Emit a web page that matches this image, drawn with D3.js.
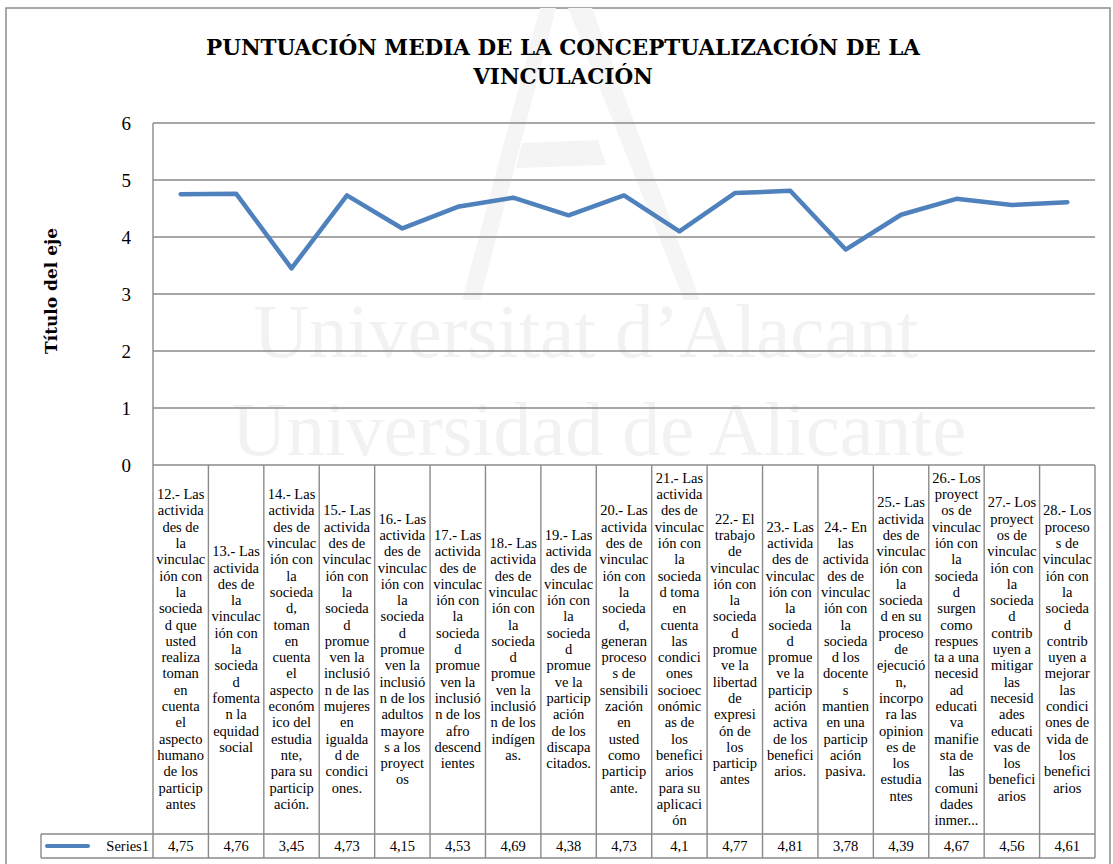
<!DOCTYPE html>
<html>
<head>
<meta charset="utf-8">
<script src="https://cdn.jsdelivr.net/npm/d3@7"></script>
<style>
  html, body { margin: 0; padding: 0; background: #fff; }
  svg { display: block; }
  text { font-family: "Liberation Serif", "DejaVu Serif", serif; }
  text.bold { font-family: "DejaVu Serif", serif; font-weight: bold; }
</style>
</head>
<body>
<svg id="chart" width="1113" height="864"></svg>
<script>
// ---- DATA ----
const titleLines = ["PUNTUACIÓN MEDIA DE LA CONCEPTUALIZACIÓN DE LA", "VINCULACIÓN"];
const yAxisTitle = "Título del eje";
const seriesName = "Series1";
const yTicks = [0, 1, 2, 3, 4, 5, 6];
const values = [4.75, 4.76, 3.45, 4.73, 4.15, 4.53, 4.69, 4.38, 4.73, 4.1, 4.77, 4.81, 3.78, 4.39, 4.67, 4.56, 4.61];
const valueLabels = ["4,75", "4,76", "3,45", "4,73", "4,15", "4,53", "4,69", "4,38", "4,73", "4,1", "4,77", "4,81", "3,78", "4,39", "4,67", "4,56", "4,61"];
const categories = [
  ["12.- Las","activida","des de","la","vinculac","ión con","la","socieda","d que","usted","realiza","toman","en","cuenta","el","aspecto","humano","de los","particip","antes"],
  ["13.- Las","activida","des de","la","vinculac","ión con","la","socieda","d","fomenta","n la","equidad","social"],
  ["14.- Las","activida","des de","vinculac","ión con","la","socieda","d,","toman","en","cuenta","el","aspecto","económ","ico del","estudia","nte,","para su","particip","ación."],
  ["15.- Las","activida","des de","vinculac","ión con","la","socieda","d","promue","ven la","inclusió","n de las","mujeres","en","igualda","d de","condici","ones."],
  ["16.- Las","activida","des de","vinculac","ión con","la","socieda","d","promue","ven la","inclusió","n de los","adultos","mayore","s a los","proyect","os"],
  ["17.- Las","activida","des de","vinculac","ión con","la","socieda","d","promue","ven la","inclusió","n de los","afro","descend","ientes"],
  ["18.- Las","activida","des de","vinculac","ión con","la","socieda","d","promue","ven la","inclusió","n de los","indígen","as."],
  ["19.- Las","activida","des de","vinculac","ión con","la","socieda","d","promue","ve la","particip","ación","de los","discapa","citados."],
  ["20.- Las","activida","des de","vinculac","ión con","la","socieda","d,","generan","proceso","s de","sensibili","zación","en","usted","como","particip","ante."],
  ["21.- Las","activida","des de","vinculac","ión con","la","socieda","d toma","en","cuenta","las","condici","ones","socioec","onómic","as de","los","benefici","arios","para su","aplicaci","ón"],
  ["22.- El","trabajo","de","vinculac","ión con","la","socieda","d","promue","ve la","libertad","de","expresi","ón de","los","particip","antes"],
  ["23.- Las","activida","des de","vinculac","ión con","la","socieda","d","promue","ve la","particip","ación","activa","de los","benefici","arios."],
  ["24.- En","las","activida","des de","vinculac","ión con","la","socieda","d los","docente","s","mantien","en una","particip","ación","pasiva."],
  ["25.- Las","activida","des de","vinculac","ión con","la","socieda","d en su","proceso","de","ejecució","n,","incorpo","ra las","opinion","es de","los","estudia","ntes"],
  ["26.- Los","proyect","os de","vinculac","ión con","la","socieda","d","surgen","como","respues","ta  a una","necesid","ad","educati","va","manifie","sta de","las","comuni","dades","inmer..."],
  ["27.- Los","proyect","os de","vinculac","ión con","la","socieda","d","contrib","uyen a","mitigar","las","necesid","ades","educati","vas de","los","benefici","arios"],
  ["28.- Los","proceso","s de","vinculac","ión con","la","socieda","d","contrib","uyen a","mejorar","las","condici","ones de","vida de","los","benefici","arios"]
];

// ---- LAYOUT ----
const plotL = 153, plotR = 1095, plotT = 123, plotB = 465;
const tableTop = 834, tableBot = 858, legendL = 41;
const gridColor = "#8a8a8a";
const lineColor = "#4f81bd";

const svg = d3.select("#chart");

const x = d3.scaleBand().domain(d3.range(values.length)).range([plotL, plotR]).padding(0);
const y = d3.scaleLinear().domain([0, 6]).range([plotB, plotT]);

// outer border
svg.append("rect").attr("x", 6).attr("y", 8).attr("width", 1104).attr("height", 870)
  .attr("fill", "#fff").attr("stroke", "#8c8c8c").attr("stroke-width", 1.5);

// watermark
const wm = svg.append("g").attr("fill", "#f2f2f2");
wm.append("path")
  .attr("d", "M462,300 L540,8 L556,8 L480,300 Z M568,8 L592,8 L700,300 L684,300 Z")
  .attr("fill", "#f5f5f5");
wm.append("path").attr("d", "M522,143 L598,140 L606,165 L516,168 Z").attr("fill", "#f4f4f4");
wm.append("text").attr("x", 586).attr("y", 357).attr("text-anchor", "middle")
  .style("font-size", "77px").text("Universitat d’Alacant");
wm.append("text").attr("x", 599).attr("y", 455).attr("text-anchor", "middle")
  .style("font-size", "76px").text("Universidad de Alicante");

// title
svg.append("g").selectAll("text").data(titleLines).join("text")
  .attr("class", "bold")
  .attr("x", 563).attr("y", (d, i) => 55 + i * 29)
  .attr("text-anchor", "middle")
  .style("font-size", "21.5px").attr("fill", "#000")
  .text(d => d);

// y gridlines
svg.append("g").selectAll("line").data(yTicks).join("line")
  .attr("x1", plotL).attr("x2", plotR)
  .attr("y1", d => y(d)).attr("y2", d => y(d))
  .attr("stroke", gridColor).attr("stroke-width", 1.4);

// y axis line
svg.append("line").attr("x1", plotL).attr("x2", plotL).attr("y1", plotT).attr("y2", plotB)
  .attr("stroke", gridColor).attr("stroke-width", 1.4);

// y axis labels
const yAxis = d3.axisLeft(y).tickValues(yTicks).tickSize(0).tickPadding(22).tickFormat(d3.format("d"));
const yg = svg.append("g").attr("transform", `translate(${plotL},0)`).call(yAxis);
yg.select(".domain").remove();
yg.attr("font-family", null);
yg.selectAll("text").style("font-size", "19px").attr("fill", "#000");

// y axis title
svg.append("text").attr("class", "bold").attr("transform", "translate(57,291) rotate(-90)")
  .attr("text-anchor", "middle").style("font-size", "17px")
  .text(yAxisTitle);

// category table columns
const colBounds = d3.range(values.length + 1).map(i => i < values.length ? x(i) : plotR);
svg.append("g").selectAll("line").data(colBounds).join("line")
  .attr("x1", d => d).attr("x2", d => d).attr("y1", plotB).attr("y2", tableBot)
  .attr("stroke", gridColor).attr("stroke-width", 1.4);
svg.append("line").attr("x1", legendL).attr("x2", plotR).attr("y1", tableTop).attr("y2", tableTop)
  .attr("stroke", gridColor).attr("stroke-width", 1.4);
svg.append("line").attr("x1", legendL).attr("x2", plotR).attr("y1", tableBot).attr("y2", tableBot)
  .attr("stroke", gridColor).attr("stroke-width", 1.4);
svg.append("line").attr("x1", legendL).attr("x2", legendL).attr("y1", tableTop).attr("y2", tableBot)
  .attr("stroke", gridColor).attr("stroke-width", 1.4);

// category labels
const lh = 16.3;
const midY = (plotB + tableTop) / 2;
const catG = svg.append("g").selectAll("text").data(categories).join("text")
  .attr("text-anchor", "middle")
  .style("font-size", "14.5px").attr("fill", "#000");
catG.each(function(lines, i) {
  const t = d3.select(this);
  const cx = x(i) + x.bandwidth() / 2;
  const y0 = midY - (lines.length - 1) * lh / 2 + 4.5;
  t.selectAll("tspan").data(lines).join("tspan")
    .attr("x", cx).attr("y", (d, j) => y0 + j * lh).text(d => d);
});

// values row
svg.append("g").selectAll("text").data(valueLabels).join("text")
  .attr("x", (d, i) => x(i) + x.bandwidth() / 2).attr("y", 851)
  .attr("text-anchor", "middle").style("font-size", "14.5px").text(d => d);

// legend key
svg.append("line").attr("x1", 47).attr("x2", 88).attr("y1", 846).attr("y2", 846)
  .attr("stroke", lineColor).attr("stroke-width", 4).attr("stroke-linecap", "round");
svg.append("text").attr("x", 149).attr("y", 851).attr("text-anchor", "end")
  .style("font-size", "14.5px").text(seriesName);

// series line
const line = d3.line().x((d, i) => x(i) + x.bandwidth() / 2).y(d => y(d));
svg.append("path").datum(values).attr("d", line)
  .attr("fill", "none").attr("stroke", lineColor).attr("stroke-width", 4.5)
  .attr("stroke-linejoin", "round").attr("stroke-linecap", "round");
</script>
</body>
</html>
